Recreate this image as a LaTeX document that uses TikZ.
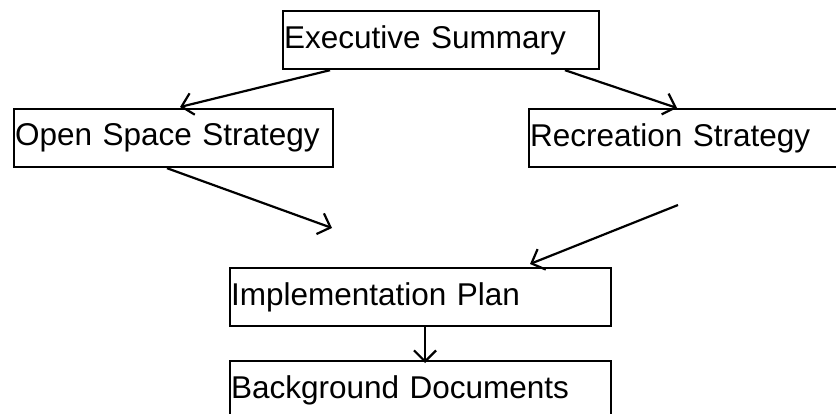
\documentclass[tikz,border=0pt]{standalone}
\usepackage{fontspec}
\setmainfont{Liberation Sans}
\usetikzlibrary{arrows.meta}
\tikzset{
  box/.style={draw, line width=2.2pt, anchor=north west, inner xsep=1pt, inner ysep=0pt,
    minimum height=58pt, text width=#1, align=left,
    font=\fontsize{31.5}{36}\selectfont},
  arr/.style={line width=2.2pt, -{Straight Barb[length=11pt,width=22pt,line width=2.2pt]}}
}
\begin{document}
\begin{tikzpicture}[x=1pt,y=-1pt]
\useasboundingbox (0,0) rectangle (836,414);
\clip (0,0) rectangle (836,414);
\node[box=314pt] (exec) at (282,10) {Executive Summary};
\node[box=317pt] (open) at (13,108) {Open Space Strategy};
\node[box=328pt] (rec) at (528,108) {Recreation Strategy};
\node[box=379pt] (impl) at (229,267) {Implementation Plan};
\node[box=379pt] (back) at (229,360) {Background Documents};
\coordinate (c1) at (332,228);
\coordinate (c2) at (678,205);
\draw[arr] ([xshift=48pt]exec.south west) -- ([xshift=167pt,yshift=1pt]open.north west);
\draw[arr] ([xshift=283pt]exec.south west) -- ([xshift=149pt]rec.north west);
\draw[arr] ([xshift=154pt]open.south west) -- (c1);
\draw[arr] (c2) -- ([xshift=301pt,yshift=3pt]impl.north west);
\draw[arr] ([xshift=196pt]impl.south west) -- ([xshift=196pt,yshift=-3pt]back.north west);
\end{tikzpicture}
\end{document}
